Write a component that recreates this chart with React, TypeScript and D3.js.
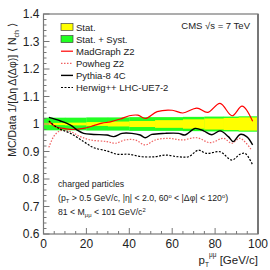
import React from 'react';
import * as d3 from 'd3';

// axis ticks
const xMajor = [0, 20, 40, 60, 80, 100];
const yMajor = [0.6, 0.7, 0.8, 0.9, 1.0, 1.1, 1.2, 1.3, 1.4];
const yLabels = ['0.6', '0.7', '0.8', '0.9', '1', '1.1', '1.2', '1.3', '1.4'];

// uncertainty band (bins in pT, half widths around 1)
const bandEdges = [0, 10, 20, 30, 40, 52, 65, 75, 84, 91, 100];
const systErr = [0.023, 0.023, 0.024, 0.024, 0.025, 0.025, 0.026, 0.027, 0.027, 0.028];
const statErr = [0.004, 0.005, 0.007, 0.009, 0.011, 0.014, 0.017, 0.02, 0.022, 0.024];

// MC / data ratios, [pT, ratio]
const madgraph: [number, number][] = [
  [2.5, 1.011], [5.6, 0.99], [9.4, 0.984], [14, 0.98], [18.7, 0.984], [23.4, 0.994],
  [27.3, 1.003], [31.2, 1.008], [35.8, 1.018], [40, 1.03], [44, 1.032], [47.5, 1.02],
  [53, 1.045], [60, 1.05], [65, 1.04], [71.5, 1.058], [76.5, 1.042], [82.3, 1.075],
  [87.9, 1.03], [92.6, 1.065], [97.5, 1.01],
];
const powheg: [number, number][] = [
  [2.5, 0.915], [4.8, 0.955], [7.9, 0.976], [12.6, 0.972], [17.2, 0.954], [21.9, 0.942],
  [29.6, 0.936], [33.5, 0.93], [38.1, 0.942], [42.8, 0.942], [47.4, 0.924], [52.1, 0.942],
  [58.3, 0.948], [64.5, 0.942], [71.5, 0.95], [77.7, 0.932], [83.9, 0.948], [87.8, 0.93],
  [91.6, 0.948], [97, 0.905],
];
const pythia: [number, number][] = [
  [2.5, 1.024], [7.9, 1.011], [12.6, 0.996], [15.7, 0.978], [18.7, 0.966], [23.4, 0.962],
  [29.6, 0.96], [32.7, 0.954], [36.6, 0.966], [41.2, 0.966], [45.1, 0.96], [47.4, 0.95],
  [50.5, 0.962], [56.7, 0.966], [62.9, 0.966], [66, 0.96], [70.7, 0.984], [74.6, 0.975],
  [78.5, 0.961], [82.3, 0.975], [86.2, 0.954], [88.5, 0.936], [91.6, 0.962], [94.7, 0.954],
  [97.5, 0.924],
];
const herwig: [number, number][] = [
  [2.5, 1.011], [7.1, 0.984], [12.6, 0.966], [18.7, 0.936], [23.4, 0.914], [29.6, 0.902],
  [34.3, 0.89], [39.7, 0.89], [45.9, 0.881], [52.1, 0.881], [56.7, 0.887], [62.9, 0.881],
  [67.6, 0.881], [72.2, 0.905], [76, 0.893], [82.3, 0.899], [87.8, 0.869], [91.6, 0.89],
  [94, 0.893], [97.5, 0.851],
];

const legendNames = ['Stat.', 'Stat. + Syst.', 'MadGraph Z2', 'Powheg Z2', 'Pythia-8 4C', 'Herwig++ LHC-UE7-2'];

const font = 'Liberation Sans, Arial, Helvetica, sans-serif';
const axisCol = '#777';

const App = () => {
  const W = 270, H = 270;
  const m = { left: 43.5, right: 258, top: 14, bottom: 234 };

  const x = d3.scaleLinear().domain([0, 100]).range([m.left, m.right]);
  const y = d3.scaleLinear().domain([0.6, 1.4]).range([m.bottom, m.top]);

  const line = d3.line<[number, number]>()
    .x(d => x(d[0]))
    .y(d => y(d[1]))
    .curve(d3.curveCatmullRom.alpha(0.5));

  const xMinor = d3.range(0, 101, 5).filter(v => v % 20 !== 0);
  const yMinor = d3.range(0, 41).map(i => 0.6 + i * 0.02).filter(v => Math.abs(v * 10 - Math.round(v * 10)) > 1e-6);

  const curves = [
    { d: madgraph, color: '#ff0000', dash: undefined, w: 1.2 },
    { d: powheg, color: '#f06060', dash: '1.5,1.5', w: 1.2 },
    { d: pythia, color: '#000', dash: undefined, w: 1.4 },
    { d: herwig, color: '#000', dash: '2,1.5', w: 1.2 },
  ];

  const legX = 61, legY0 = 27, legStep = 12.1;

  return (
    <div style={{ position: 'absolute', left: 0, top: 0 }}>
      <svg width={W} height={H} style={{ display: 'block', background: '#fff' }} fontFamily={font}>
        {/* bands */}
        {systErr.map((e, i) => (
          <rect key={'s' + i} x={x(bandEdges[i])} width={x(bandEdges[i + 1]) - x(bandEdges[i]) + 0.3}
            y={y(1 + e)} height={y(1 - e) - y(1 + e)} fill="#22ff22" />
        ))}
        {statErr.map((e, i) => (
          <rect key={'t' + i} x={x(bandEdges[i])} width={x(bandEdges[i + 1]) - x(bandEdges[i]) + 0.3}
            y={y(1 + e)} height={y(1 - e) - y(1 + e)} fill="#ffff00" />
        ))}

        {/* curves */}
        {curves.map((c, i) => (
          <path key={i} d={line(c.d) || ''} fill="none" stroke={c.color} strokeWidth={c.w} strokeDasharray={c.dash} />
        ))}

        {/* frame */}
        <rect x={m.left} y={m.top} width={m.right - m.left} height={m.bottom - m.top} fill="none" stroke={axisCol} strokeWidth={1.2} />
        <line x1={m.right} x2={m.right} y1={m.top} y2={m.bottom} stroke={axisCol} strokeWidth={2} />

        {/* y ticks */}
        {yMajor.map((v, i) => (
          <g key={'ym' + i}>
            <line x1={m.left} x2={m.left + 6} y1={y(v)} y2={y(v)} stroke={axisCol} strokeWidth={1} />
            <text x={m.left - 4} y={y(v) + 4.3} textAnchor="end" fontSize={12} fill="#222">{yLabels[i]}</text>
          </g>
        ))}
        {yMinor.map((v, i) => (
          <line key={'yn' + i} x1={m.left} x2={m.left + 3} y1={y(v)} y2={y(v)} stroke={axisCol} strokeWidth={1} />
        ))}

        {/* x ticks */}
        {xMajor.map((v, i) => (
          <g key={'xm' + i}>
            <line x1={x(v)} x2={x(v)} y1={m.bottom} y2={m.bottom - 6} stroke={axisCol} strokeWidth={1} />
            <text x={x(v)} y={247.5} textAnchor="middle" fontSize={12} fill="#222">{v}</text>
          </g>
        ))}
        {xMinor.map((v, i) => (
          <line key={'xn' + i} x1={x(v)} x2={x(v)} y1={m.bottom} y2={m.bottom - 3} stroke={axisCol} strokeWidth={1} />
        ))}

        {/* axis titles */}
        <text transform="translate(16,90) rotate(-90)" textAnchor="middle" fontSize={10.5} fill="#222">
          MC/Data 1/[Δη Δ(Δφ)] ⟨ N<tspan dy={3} fontSize={7}>ch</tspan><tspan dy={-3}> ⟩</tspan>
        </text>
        <text x={258} y={263.5} textAnchor="end" fontSize={11.5} fill="#222">
          p<tspan dy={3} fontSize={6.5}>T</tspan><tspan dy={-10} fontSize={6.5}>μμ</tspan><tspan dy={7}> [GeV/c]</tspan>
        </text>

        {/* CMS label */}
        <text x={250} y={29} textAnchor="end" fontSize={9.5} fill="#222">CMS  √s = 7 TeV</text>

        {/* legend */}
        <rect x={legX} y={legY0 - 3.5} width={12} height={7} fill="#ffff00" stroke="#444" strokeWidth={0.7} />
        <rect x={legX} y={legY0 + legStep - 3.5} width={12} height={7} fill="#22ff22" stroke="#444" strokeWidth={0.7} />
        {curves.map((c, i) => (
          <line key={'lg' + i} x1={legX} x2={legX + 12} y1={legY0 + (i + 2) * legStep} y2={legY0 + (i + 2) * legStep}
            stroke={c.color} strokeWidth={c.w} strokeDasharray={c.dash} />
        ))}
        {legendNames.map((n, i) => (
          <text key={'ln' + i} x={legX + 15} y={legY0 + i * legStep + 3.5} fontSize={9.5} fill="#222">{n}</text>
        ))}

        {/* selection text */}
        <g fontSize={8.7} fill="#222">
          <text x={58} y={187}>charged particles</text>
          <text x={58} y={200.5}>
            (p<tspan dy={2} fontSize={5.8}>T</tspan><tspan dy={-2}> &gt; 0.5 GeV/c, |η| &lt; 2.0, 60</tspan>
            <tspan dy={-3} fontSize={5.8}>o</tspan><tspan dy={3}> &lt; |Δφ| &lt; 120</tspan>
            <tspan dy={-3} fontSize={5.8}>o</tspan><tspan dy={3}>)</tspan>
          </text>
          <text x={58} y={215}>
            81 &lt; M<tspan dy={2} fontSize={5.8}>μμ</tspan><tspan dy={-2}> &lt; 101 GeV/c</tspan>
            <tspan dy={-3} fontSize={5.8}>2</tspan>
          </text>
        </g>
      </svg>
    </div>
  );
};

export default App;
